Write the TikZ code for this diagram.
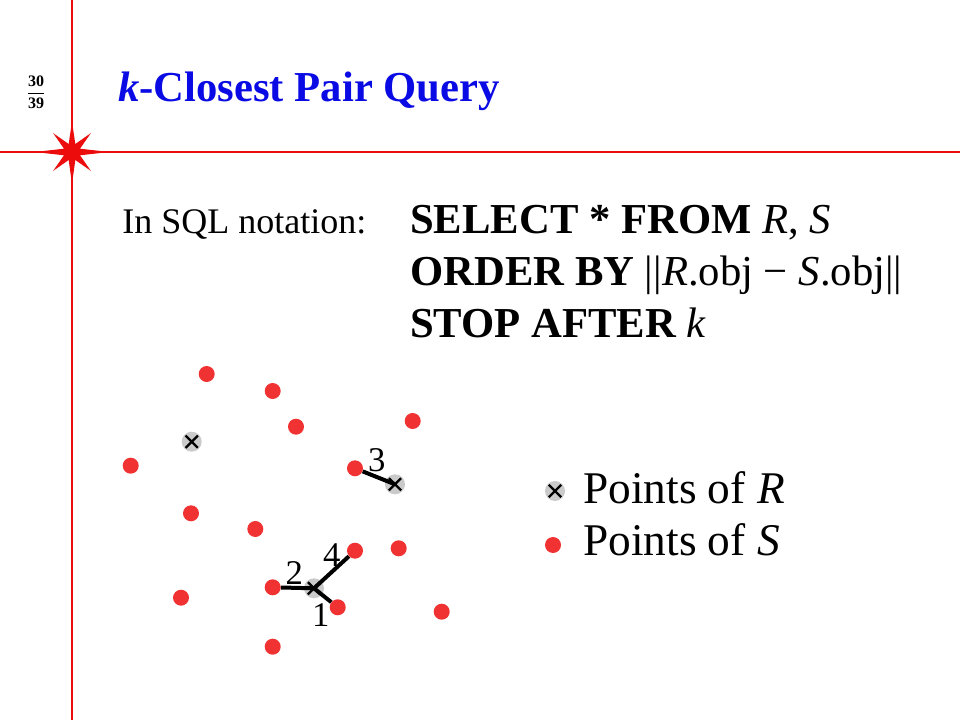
\documentclass[tikz,border=0pt]{standalone}
\usepackage{fontspec}
\setmainfont{Liberation Serif}
\definecolor{slidered}{RGB}{236,12,12}
\definecolor{ptred}{RGB}{240,50,50}
\definecolor{ptgray}{RGB}{202,202,202}
\definecolor{titleblue}{RGB}{10,10,228}
\tikzset{
  sdot/.style={circle,fill=ptred,inner sep=0pt,minimum size=12pt},
  rpt/.style={circle,fill=ptgray,inner sep=0pt,minimum size=15pt,
    path picture={\draw[line width=1.7pt] (path picture bounding box.center)
      +(-4.6pt,-4.6pt) -- +(4.6pt,4.6pt) +(-4.6pt,4.6pt) -- +(4.6pt,-4.6pt);}},
  pair/.style={line width=3pt},
  num/.style={font=\fontsize{26}{26}\selectfont,inner sep=0pt},
  sql/.style={anchor=base west,inner sep=0pt,font=\fontsize{32}{38}\selectfont\bfseries},
  legend/.style={anchor=base west,inner sep=0pt,font=\fontsize{34}{40}\selectfont}
}
\begin{document}
\begin{tikzpicture}[x=0.75pt,y=-0.75pt]
      \useasboundingbox (0,0) rectangle (960,720);
      % slide frame
      \draw[slidered,line width=1pt] (72,0) -- (72,720) (0,152) -- (960,152);
      \fill[slidered,shift={(72,152)}] (0:28pt)
        \foreach \a/\r in {22.5/6.5,45/20,67.5/6.5,90/23,112.5/6.5,135/20,157.5/6.5,180/28,
          202.5/6.5,225/20,247.5/6.5,270/24,292.5/6.5,315/20,337.5/6.5} { -- (\a:\r pt) } -- cycle;
      \node[font=\fontsize{12}{14}\selectfont] (page) at (36,92)
        {$\displaystyle\frac{\textbf{30}}{\textbf{39}}$};
      \node[anchor=base west,inner sep=0pt,text=titleblue,
        font=\fontsize{32}{38}\selectfont\bfseries] (title) at (118,102)
        {\textit{k}-Closest Pair Query};
      % query text
      \node[anchor=base west,inner sep=0pt,font=\fontsize{27}{32}\selectfont]
        (intro) at (122,234) {In SQL notation:};
      \node[sql] (line1) at (410,234) {SELECT * FROM \mdseries\textit{R}, \textit{S}};
      \node[sql] (line2) at (410,286) {ORDER BY \mdseries||\textit{R}.obj − \textit{S}.obj||};
      \node[sql] (line3) at (410,337) {STOP AFTER \mdseries\textit{k}};
      % points of S
      \draw
        (206.7,374) node[sdot] (s1){}
        (272.7,391) node[sdot] (s2){}
        (296,426.7) node[sdot] (s3){}
        (412.7,421) node[sdot] (s4){}
        (130.7,465.7) node[sdot] (s5){}
        (355,468.3) node[sdot] (s6){}
        (191,513.3) node[sdot] (s7){}
        (255.3,529) node[sdot] (s8){}
        (355,550.7) node[sdot] (s9){}
        (398.7,548.3) node[sdot] (s10){}
        (272.7,587.3) node[sdot] (s11){}
        (337.7,607.3) node[sdot] (s12){}
        (181,597.7) node[sdot] (s13){}
        (441.7,611.7) node[sdot] (s14){}
        (272.7,646.7) node[sdot] (s15){};
      % points of R
      \draw
        (191.7,441.7) node[rpt] (r1){}
        (395,484.3) node[rpt] (r2){}
        (314,588.3) node[rpt] (r3){};
      \begin{scope}[pair]
        \draw (r3.center) to (s12);
        \draw (r3.center) to (s11);
        \draw (r2.center) to (s6);
        \draw (r3.center) to (s9);
      \end{scope}
      \node[num] (n1) at (320.7,615) {1};
      \node[num] (n2) at (294.3,572.7) {2};
      \node[num] (n3) at (376.7,460) {3};
      \node[num] (n4) at (331.7,555) {4};
      % legend
      \node[rpt] (keyr) at (555,491) {};
      \node[sdot] (keys) at (553,545) {};
      \node[legend] (textr) at (583,503) {Points of \textit{R}};
      \node[legend] (texts) at (583,555) {Points of \textit{S}};
    \end{tikzpicture}
\end{document}
